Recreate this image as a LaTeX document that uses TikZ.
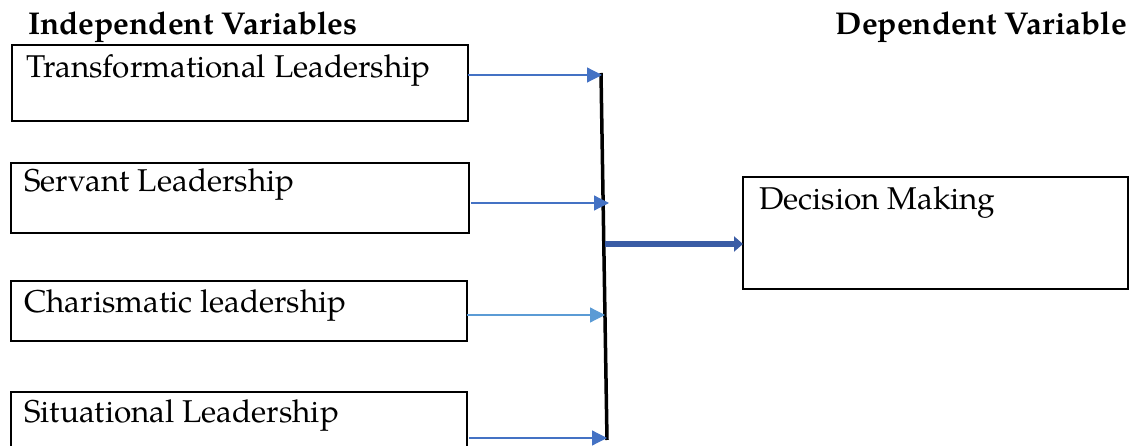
\documentclass[tikz,border=0pt]{standalone}
\usepackage{fontspec}
\setmainfont{TeX Gyre Pagella}
\usetikzlibrary{arrows.meta}
\definecolor{arrblue}{RGB}{68,114,196}
\definecolor{arrlight}{RGB}{91,155,213}
\definecolor{thickblue}{RGB}{58,92,165}
\tikzset{
  varbox/.style={draw=black, line width=2pt, minimum width=456pt, inner sep=0pt, outer sep=0pt},
  vartext/.style={anchor=base west, inner sep=0pt, font=\fontsize{31.5}{36}\selectfont},
  headtext/.style={anchor=base west, inner sep=0pt, font=\fontsize{31.5}{36}\selectfont\bfseries},
  thinarrow/.style={draw=arrblue, line width=1.2pt, -{Triangle[length=15pt,width=15pt]}},
}
\begin{document}
\begin{tikzpicture}[x=1pt,y=-1pt]
\useasboundingbox (0,0) rectangle (1136,446);
% headers
\node[headtext] (hind) at (28,35) {Independent Variables};
\node[headtext, anchor=base east] (hdep) at (1127,35) {Dependent Variable};
% boxes
\node[varbox, minimum height=76pt] (b1) at (239.5,83) {};
\node[varbox, minimum height=70pt, minimum width=458pt] (b2) at (240,198) {};
\node[varbox, minimum height=60pt] (b3) at (239,311) {};
\node[varbox, minimum height=70pt] (b4) at (239,427) {};
\node[varbox, minimum width=385pt, minimum height=112pt] (dm) at (935.5,233) {};
% texts
\node[vartext] (t1) at (26,78) {Transformational Leadership};
\node[vartext] (t2) at (24,192) {Servant Leadership};
\node[vartext] (t3) at (24,313) {Charismatic leadership};
\node[vartext] (t4) at (24,423) {Situational Leadership};
\node[vartext] (t5) at (759,210) {Decision Making};
% vertical bar
\coordinate (bt) at (601,73);
\coordinate (bb) at (607,440);
\draw[black, line width=3.5pt] (bt) -- (bb);
\coordinate (a1) at (602,75);
\coordinate (a2) at (609,203);
\coordinate (a3) at (605,315);
\coordinate (a4) at (607,438);
\coordinate (mid) at (605,244);
% arrows
\draw[thinarrow] (b1.east |- a1) -- (a1);
\draw[thinarrow] ([xshift=2pt]b2.east |- a2) -- (a2);
\draw[thinarrow, draw=arrlight, -{Triangle[length=15pt,width=15pt,color=arrlight]}] (b3.east |- a3) -- (a3);
\draw[thinarrow] ([xshift=2pt]b4.east |- a4) -- (a4);
\draw[thickblue, line width=5.5pt, -{Triangle[length=9pt,width=15pt]}] (mid) -- (dm.west |- mid);
\end{tikzpicture}
\end{document}
